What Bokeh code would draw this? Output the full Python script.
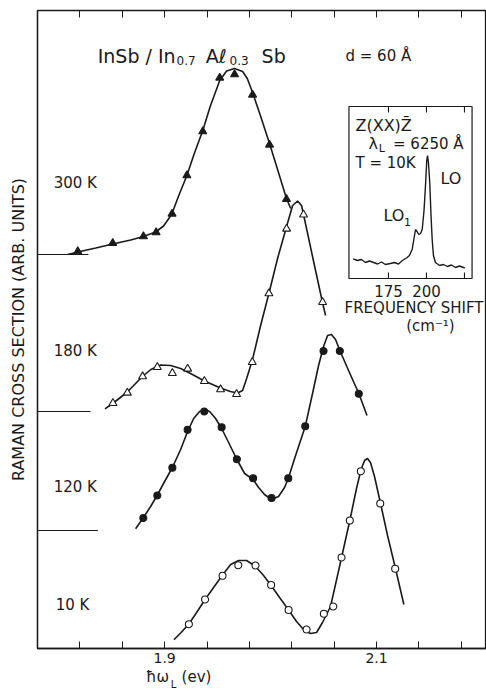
from bokeh.plotting import figure
from bokeh.models import Range1d, LinearAxis, FixedTicker, Label
from bokeh.embed import file_html
from bokeh.resources import INLINE

FONT = "DejaVu Sans"

# ---------------- data (photon energy in eV, Raman intensity in arb. units above each baseline)
x_ticks_major = [1.9, 2.1]
x_ticks_minor = [1.82, 1.86, 1.94, 1.98, 2.02, 2.06, 2.14, 2.18]

temps = ["300 K", "180 K", "120 K", "10 K"]
baseline = {"300 K": 3.94, "180 K": 2.37, "120 K": 1.18, "10 K": 0.0}
baseline_end = {"300 K": 1.828, "180 K": 1.830, "120 K": 1.837}

pts300_x = [1.818, 1.851, 1.880, 1.892, 1.907, 1.921, 1.936, 1.952, 1.966, 1.983, 1.999, 2.015]
pts300_y = [0.03, 0.113, 0.18, 0.22, 0.407, 0.79, 1.23, 1.767, 1.80, 1.597, 1.097, 0.553]
fit300_x = [1.8085, 1.818, 1.835, 1.851, 1.868, 1.880, 1.8915, 1.899, 1.9066, 1.913, 1.921, 1.928,
            1.936, 1.943, 1.952, 1.9585, 1.966, 1.9736, 1.978, 1.983, 1.991, 1.9993, 2.0066, 2.015, 2.019]
fit300_y = [0.0, 0.025, 0.065, 0.105, 0.145, 0.18, 0.225, 0.285, 0.40, 0.58, 0.79, 1.01,
            1.24, 1.48, 1.74, 1.835, 1.86, 1.83, 1.76, 1.62, 1.37, 1.10, 0.85, 0.56, 0.46]

pts180_x = [1.8512, 1.8648, 1.8792, 1.8931, 1.9073, 1.9217, 1.9375, 1.9528, 1.9679, 1.9827, 1.9984, 2.0151, 2.0311, 2.0491]
pts180_y = [0.083, 0.187, 0.35, 0.443, 0.383, 0.427, 0.303, 0.22, 0.173, 0.493, 1.18, 1.827, 1.968, 1.093]
fit180_x = [1.8437, 1.851, 1.8648, 1.879, 1.887, 1.8962, 1.9057, 1.9151, 1.9245, 1.9375, 1.9528, 1.962,
            1.9689, 1.9736, 1.9774, 1.9827, 1.9906, 1.9984, 2.0066, 2.0151, 2.0208, 2.0255, 2.0292,
            2.0311, 2.0396, 2.049, 2.0519]
fit180_y = [0.027, 0.08, 0.195, 0.35, 0.42, 0.465, 0.46, 0.43, 0.38, 0.305, 0.235, 0.20,
            0.185, 0.21, 0.33, 0.51, 0.86, 1.18, 1.53, 1.85, 2.06, 2.105, 2.06,
            1.97, 1.55, 1.09, 0.96]

pts120_x = [1.8799, 1.8931, 1.9073, 1.9217, 1.9375, 1.9538, 1.9682, 1.9835, 2.0009, 2.0167, 2.0327, 2.050, 2.0654, 2.0833]
pts120_y = [0.125, 0.35, 0.627, 1.007, 1.19, 1.033, 0.713, 0.522, 0.325, 0.523, 1.043, 1.795, 1.795, 1.367]
fit120_x = [1.8726, 1.880, 1.8868, 1.8931, 1.900, 1.9073, 1.9151, 1.9217, 1.9274, 1.933, 1.9377, 1.9425,
            1.9481, 1.9538, 1.9604, 1.9682, 1.9755, 1.9835, 1.9887, 1.9943, 2.0009, 2.0075, 2.0132,
            2.0167, 2.0236, 2.0327, 2.0396, 2.0453, 2.050, 2.0538, 2.0575, 2.0613, 2.0654, 2.0736,
            2.0833, 2.0910]
fit120_y = [0.017, 0.13, 0.24, 0.355, 0.49, 0.63, 0.81, 0.99, 1.12, 1.19, 1.21, 1.19,
            1.12, 1.02, 0.88, 0.71, 0.57, 0.51, 0.43, 0.36, 0.31, 0.34, 0.43,
            0.52, 0.75, 1.04, 1.37, 1.65, 1.84, 1.95, 1.96, 1.91, 1.80, 1.60,
            1.37, 1.15]

pts10_x = [1.9229, 1.9382, 1.9547, 1.9695, 1.9858, 2.0005, 2.017, 2.034, 2.0503, 2.0592, 2.067, 2.0748, 2.0852, 2.1035, 2.1176]
pts10_y = [0.243, 0.49, 0.727, 0.833, 0.83, 0.635, 0.385, 0.19, 0.347, 0.42, 0.91, 1.28, 1.773, 1.45, 0.797]
fit10_x = [1.9088, 1.9151, 1.9229, 1.9302, 1.9382, 1.9462, 1.9547, 1.9623, 1.9698, 1.9774, 1.9858,
           1.9934, 2.0005, 2.0085, 2.017, 2.0245, 2.0311, 2.0377, 2.0434, 2.049, 2.0566, 2.067,
           2.0748, 2.0811, 2.0854, 2.0887, 2.0915, 2.0943, 2.0981, 2.1038, 2.1104, 2.1179, 2.1258]
fit10_y = [0.087, 0.155, 0.245, 0.36, 0.49, 0.61, 0.735, 0.84, 0.88, 0.88, 0.82,
           0.73, 0.63, 0.51, 0.385, 0.27, 0.19, 0.15, 0.16, 0.26, 0.42, 0.91,
           1.28, 1.60, 1.79, 1.88, 1.90, 1.86, 1.72, 1.45, 1.13, 0.80, 0.44]

# inset spectrum (frequency shift cm^-1, intensity arb. units)
inset_ticks = [175, 200]
inset_minor = [225]
spec_f = [151.8, 154.6, 157.2, 159.9, 162.5, 165.3, 167.8, 170.4, 173.0, 176.3, 178.9, 181.6, 184.2,
          187.3, 188.8, 190.6, 191.8, 192.8, 193.8, 194.9, 196.1, 197.2, 198.4, 199.3, 200.2, 200.7,
          201.3, 202.2, 203.0, 203.8, 204.6, 205.9, 208.6, 211.2, 213.8, 216.4, 219.1, 221.7, 225.2]
spec_i = [0.187, 0.17, 0.18, 0.15, 0.165, 0.15, 0.135, 0.155, 0.13, 0.14, 0.15, 0.135, 0.17,
          0.20, 0.22, 0.28, 0.39, 0.48, 0.46, 0.43, 0.44, 0.48, 0.67, 0.90, 1.17, 1.22,
          1.15, 0.94, 0.62, 0.37, 0.22, 0.15, 0.12, 0.13, 0.11, 0.125, 0.10, 0.115, 0.095]
inset_f_lim = (149, 230)
inset_i_lim = (-0.01, 1.71)

INK = "#1a1a1a"

p = figure(width=486, height=692, x_range=Range1d(1.78, 2.2038), y_range=Range1d(0, 6.38),
           output_backend="svg", toolbar_location=None,
           min_border_left=37, min_border_right=0, min_border_top=10, min_border_bottom=44)
p.grid.visible = False
p.outline_line_color = INK
p.outline_line_width = 1.3
p.background_fill_color = "white"
p.border_fill_color = "white"

ax = p.xaxis[0]
ax.ticker = FixedTicker(ticks=x_ticks_major, minor_ticks=x_ticks_minor)
ax.major_tick_in = 7
ax.major_tick_out = 0
ax.minor_tick_in = 7
ax.minor_tick_out = 0
ax.major_tick_line_color = INK
ax.minor_tick_line_color = INK
ax.axis_line_color = INK
ax.axis_line_width = 1.3
ax.major_label_text_font = FONT
ax.major_label_text_font_size = "14px"
ax.major_label_text_color = INK
ax.major_label_standoff = 4

# x-axis title "ħω_L (ev)" as label rows beneath the tick labels (pixel-like helper range)
p.extra_x_ranges = {"inx": Range1d(-55.9, 239.5), "lab": Range1d(37, 486)}
xl_main = LinearAxis(x_range_name="lab", ticker=FixedTicker(ticks=[157, 196]),
                     major_label_overrides={157: "\u0127\u03c9", 196: "(ev)"},
                     major_label_text_font=FONT, major_label_text_font_size="15px",
                     major_label_text_color=INK, major_label_standoff=2,
                     axis_line_color=None, major_tick_line_color=None, minor_tick_line_color=None,
                     major_tick_in=0, major_tick_out=0)
p.add_layout(xl_main, "below")
xl_sub = LinearAxis(x_range_name="lab", ticker=FixedTicker(ticks=[173]),
                    major_label_overrides={173: "L"},
                    major_label_text_font=FONT, major_label_text_font_size="10px",
                    major_label_text_color=INK, major_label_standoff=-10,
                    axis_line_color=None, major_tick_line_color=None, minor_tick_line_color=None,
                    major_tick_in=0, major_tick_out=0)
p.add_layout(xl_sub, "below")

top = LinearAxis(ticker=FixedTicker(ticks=[], minor_ticks=x_ticks_major + x_ticks_minor),
                 major_tick_in=7, major_tick_out=0, minor_tick_in=7, minor_tick_out=0,
                 major_label_standoff=0,
                 axis_line_color=INK, major_tick_line_color=INK, minor_tick_line_color=INK)
p.add_layout(top, "above")

ay = p.yaxis[0]
ay.ticker = FixedTicker(ticks=[])
ay.axis_line_color = INK
ay.axis_line_width = 1.3
ay.major_label_standoff = 0
ay.axis_label = "RAMAN CROSS SECTION (ARB. UNITS)"
ay.axis_label_text_font = FONT
ay.axis_label_text_font_size = "16px"
ay.axis_label_text_font_style = "normal"
ay.axis_label_text_color = INK
ay.axis_label_standoff = 10

# baselines
for t in ["300 K", "180 K", "120 K"]:
    p.line(x=[1.78, baseline_end[t]], y=[baseline[t], baseline[t]], line_color=INK, line_width=1.2)

series = [
    ("300 K", fit300_x, fit300_y, pts300_x, pts300_y, "triangle", INK, 8),
    ("180 K", fit180_x, fit180_y, pts180_x, pts180_y, "triangle", "white", 8),
    ("120 K", fit120_x, fit120_y, pts120_x, pts120_y, "circle", INK, 7),
    ("10 K", fit10_x, fit10_y, pts10_x, pts10_y, "circle", "white", 7),
]
for t, fx, fy, px_, py_, mk, fill, sz in series:
    off = baseline[t]
    p.line(x=fx, y=[v + off for v in fy], line_color=INK, line_width=1.6)
    p.scatter(x=px_, y=[v + off for v in py_], marker=mk, size=sz, fill_color=fill,
              line_color=INK, line_width=1.1)

def lab(x, y, text, size="14px", align="left", base="middle", **kw):
    p.add_layout(Label(x=x, y=y, text=text, text_font=FONT, text_font_size=size,
                       text_align=align, text_baseline=base, text_color=INK, **kw))

# temperature labels
lab(1.7953, 4.66, "300 K", "15px")
lab(1.7953, 2.98, "180 K", "15px")
lab(1.7953, 1.62, "120 K", "15px")
lab(1.7972, 0.44, "10 K", "15px")

# title
lab(1.8368, 5.93, "InSb / In", "19px", base="alphabetic")
lab(1.9113, 5.88, "0.7", "12px", base="alphabetic")
lab(1.9387, 5.93, "A\u2113", "19px", base="alphabetic")
lab(1.9613, 5.88, "0.3", "12px", base="alphabetic")
lab(1.9915, 5.93, "Sb", "19px", base="alphabetic")
lab(2.0707, 5.93, "d = 60 \u00c5", "15px", base="alphabetic")

# ---------------- inset via extra ranges
p.extra_y_ranges = {"iny": Range1d(-3.71, 2.67)}
IR = dict(x_range_name="inx", y_range_name="iny")

p.quad(left=inset_f_lim[0], right=inset_f_lim[1], bottom=inset_i_lim[0], top=inset_i_lim[1],
       fill_color="white", line_color=INK, line_width=1.2, **IR)
for f in inset_ticks + inset_minor:
    p.line(x=[f, f], y=[inset_i_lim[0], inset_i_lim[0] + 0.06], line_color=INK, line_width=1.1, **IR)
    p.line(x=[f, f], y=[inset_i_lim[1], inset_i_lim[1] - 0.06], line_color=INK, line_width=1.1, **IR)
p.line(x=spec_f, y=spec_i, line_color=INK, line_width=1.4, **IR)

def ilab(x, y, text, size="16px", align="left", base="middle"):
    p.add_layout(Label(x=x, y=y, text=text, text_font=FONT, text_font_size=size,
                       text_align=align, text_baseline=base, text_color=INK, **IR))

ilab(153.3, 1.52, "Z(XX)Z\u0304")
ilab(161.8, 1.34, "\u03bb")
ilab(168.6, 1.29, "L", "11px")
ilab(178.0, 1.34, "= 6250 \u00c5", "15px")
ilab(153.3, 1.15, "T = 10K", "15px")
ilab(209.2, 0.99, "LO")
ilab(171.7, 0.62, "LO")
ilab(185.3, 0.56, "1", "11px")
for f in inset_ticks:
    ilab(f, -0.13, str(f), "15px", align="center")
ilab(191.8, -0.30, "FREQUENCY SHIFT", "15px", align="center")
ilab(202.6, -0.48, "(cm\u207b\u00b9)", "15px", align="center")

open("out.html", "w").write(file_html(p, INLINE))
